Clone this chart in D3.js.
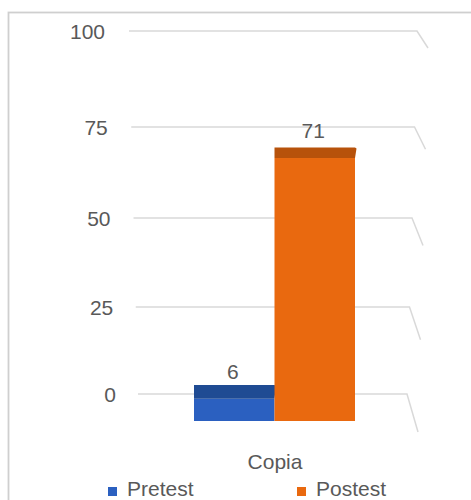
<!DOCTYPE html>
<html>
<head>
<meta charset="utf-8">
<script src="https://cdn.jsdelivr.net/npm/d3@7"></script>
<style>
  html, body { margin: 0; padding: 0; background: #ffffff; }
  svg { display: block; }
  text { font-family: "Liberation Sans", Arial, sans-serif; fill: #595959; }
</style>
</head>
<body>
<svg id="chart" width="471" height="500"></svg>
<script>
// ---- data ----
const categories = ["Copia"];
const series = ["Pretest", "Postest"];
const values = [6, 71];
const tickValues = [0, 25, 50, 75, 100];
const tickLabels = ["0", "25", "50", "75", "100"];
const frontColors = ["#2b60c0", "#e9690f"];
const topColors = ["#1f4b93", "#b7520b"];

const svg = d3.select("#chart");

// chart frame (cropped on right/bottom)
svg.append("rect")
  .attr("x", 8.5).attr("y", 12.5)
  .attr("width", 520).attr("height", 540)
  .attr("fill", "#ffffff")
  .attr("stroke", "#cfcfcf").attr("stroke-width", 1.8);

// back-wall value scale (perspective, piecewise)
const yBack = d3.scaleLinear().domain(tickValues).range([394, 307, 218, 127, 31]);
const gridStartX = d3.scaleLinear().domain([0, 100]).range([138, 129]);
const gridCornerX = d3.scaleLinear().domain([0, 100]).range([407, 417]);
const sideDy = d3.scaleLinear().domain([0, 100]).range([38, 17]);
const labelRightX = d3.scaleLinear().domain([0, 100]).range([116, 105]);

// gridlines (back wall + side wall)
const grid = svg.append("g");
tickValues.forEach(v => {
  const y = yBack(v);
  const cx = gridCornerX(v);
  grid.append("path")
    .attr("d", d3.line()([[gridStartX(v), y], [cx, y], [cx + 11, y + sideDy(v)]]))
    .attr("fill", "none")
    .attr("stroke", "#d9d9d9")
    .attr("stroke-width", 1.5);
});

// value axis labels
svg.append("g").selectAll("text")
  .data(tickValues)
  .join("text")
  .attr("x", d => labelRightX(d))
  .attr("y", d => yBack(d))
  .attr("dy", "0.36em")
  .attr("text-anchor", "end")
  .style("font-size", "21px")
  .text((d, i) => tickLabels[i]);

// front value scale & bars
const yFront = d3.scaleLinear().domain([0, 100]).range([421, 50.6]);
const x = d3.scaleBand().domain(series).range([194, 355]).padding(0);
const topDepth = d3.scaleLinear().domain([0, 100]).range([14, 9]);
const labelOffset = d3.scaleLinear().domain([0, 100]).range([6, 11.5]);

const bars = svg.append("g");
series.forEach((s, i) => {
  const v = values[i];
  const x0 = x(s), x1 = x(s) + x.bandwidth();
  const yt = yFront(v), y0 = yFront(0);
  const d = topDepth(v);
  // front face
  bars.append("rect")
    .attr("x", x0).attr("y", yt)
    .attr("width", x1 - x0).attr("height", y0 - yt)
    .attr("fill", frontColors[i]);
  // top face
  bars.append("path")
    .attr("d", d3.line()([[x0, yt], [x1, yt], [x1 + 1.5, yt - d + 1], [x1, yt - d], [x0, yt - d]]) + "Z")
    .attr("fill", topColors[i]);
  // data label
  svg.append("text")
    .attr("x", (x0 + x1) / 2 - 1.5)
    .attr("y", yt - d - labelOffset(v))
    .attr("text-anchor", "middle")
    .style("font-size", "21px")
    .text(v);
});

// category label
svg.append("text")
  .attr("x", 275).attr("y", 469)
  .attr("text-anchor", "middle")
  .style("font-size", "21px")
  .text(categories[0]);

// legend
const legendX = d3.scaleOrdinal().domain(series).range([108, 297]);
const lg = svg.append("g");
series.forEach((s, i) => {
  lg.append("rect")
    .attr("x", legendX(s)).attr("y", 487)
    .attr("width", 9).attr("height", 9)
    .attr("fill", frontColors[i]);
  lg.append("text")
    .attr("x", legendX(s) + 19).attr("y", 496)
    .style("font-size", "21px")
    .text(s);
});
</script>
</body>
</html>
